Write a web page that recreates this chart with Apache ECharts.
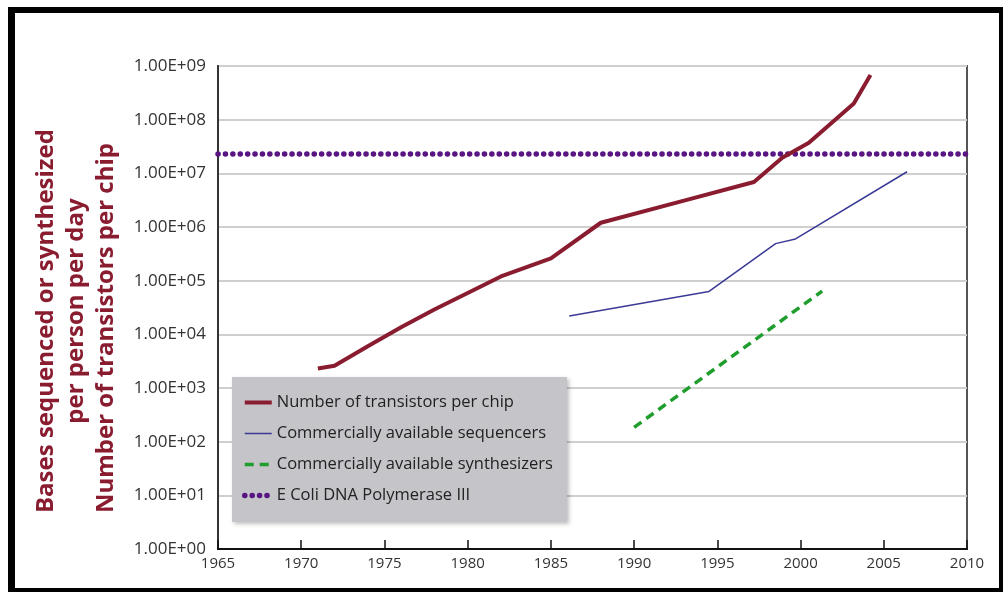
<!DOCTYPE html>
<html>
<head>
<meta charset="utf-8">
<script src="https://cdn.jsdelivr.net/npm/echarts@6/dist/echarts.min.js"></script>
<style>
  html, body { margin: 0; padding: 0; background: #fff; }
  #chart { width: 1003px; height: 592px; }
</style>
</head>
<body>
<div id="chart"></div>
<script>
// --- data (x = year, y = count) ---
const transistorYears = [1971, 1972, 1974, 1976, 1978, 1982, 1985, 1988, 1993, 1997.2, 1998.9, 2000.5, 2003.2, 2004.2];
const transistorValues = [2.3e3, 2.6e3, 6.0e3, 1.35e4, 2.9e4, 1.2e5, 2.6e5, 1.2e6, 3.1e6, 6.9e6, 1.95e7, 3.7e7, 2.0e8, 6.8e8];

const sequencerYears = [1986.1, 1994.5, 1998.5, 1999.7, 2006.4];
const sequencerValues = [2.2e4, 6.3e4, 4.9e5, 6.0e5, 1.07e7];

const synthesizerYears = [1990, 2001.3];
const synthesizerValues = [1.85e2, 6.4e4];

const polymeraseYears = [1965, 2010];
const polymeraseValues = [2.3e7, 2.3e7];

const seriesNames = [
  'Number of transistors per chip',
  'Commercially available sequencers',
  'Commercially available synthesizers',
  'E Coli DNA Polymerase III'
];
const axisTitleLines = [
  'Bases sequenced or synthesized',
  'per person per day',
  'Number of transistors per chip'
];

const red = '#8a1c30';
const blue = '#3a3a96';
const green = '#1f9e2e';
const purple = '#5a1585';
const labelFont = '"Open Sans", sans-serif';
const titleFont = 'bold 24px "Open Sans", sans-serif';

// line looks, shared by the series and their legend icons
const styles = [
  { color: red, width: 4 },
  { color: blue, width: 1.5 },
  { color: green, width: 3.5, type: [9, 6] },
  { color: purple, width: 5.5, type: [0.1, 7.3], cap: 'round' }
];

function pairs(xs, ys) {
  return xs.map((x, i) => [x, ys[i]]);
}

function expLabel(v) {
  const e = Math.round(Math.log10(v));
  return '1.00E+' + (e < 10 ? '0' + e : e);
}

const chart = echarts.init(document.getElementById('chart'));

const seriesData = [
  pairs(transistorYears, transistorValues),
  pairs(sequencerYears, sequencerValues),
  pairs(synthesizerYears, synthesizerValues),
  pairs(polymeraseYears, polymeraseValues)
];

const option = {
  animation: false,
  backgroundColor: '#fff',
  grid: {
    left: 218, right: 36, top: 66, bottom: 43,
    show: true, borderColor: '#555', borderWidth: 2
  },
  xAxis: {
    type: 'value', min: 1965, max: 2010, interval: 5,
    axisLine: { lineStyle: { color: '#111', width: 2 } },
    axisTick: { inside: true, length: 9, lineStyle: { color: '#111', width: 1.5 } },
    splitLine: { show: false },
    axisLabel: { color: '#333', fontFamily: labelFont, fontSize: 15, margin: 7, formatter: v => String(v) }
  },
  yAxis: {
    type: 'log', logBase: 10, min: 1, max: 1e9,
    axisLine: { show: true, lineStyle: { color: '#333', width: 2 } },
    axisTick: { show: false },
    splitLine: { lineStyle: { color: '#cfcfcf', width: 2 } },
    axisLabel: { color: '#333', fontFamily: labelFont, fontSize: 17, margin: 12, formatter: expLabel }
  },
  legend: {
    orient: 'vertical', left: 232, top: 377,
    backgroundColor: '#c4c4c9',
    shadowColor: 'rgba(0,0,0,0.25)', shadowBlur: 4, shadowOffsetX: 2, shadowOffsetY: 2,
    padding: [17, 14, 18, 10],
    itemWidth: 27, itemHeight: 14, itemGap: 14,
    itemStyle: { opacity: 0 },
    textStyle: { color: '#222', fontFamily: labelFont, fontSize: 16.5 },
    data: seriesNames.map((name, i) => ({ name: name, lineStyle: styles[i] }))
  },
  series: seriesNames.map((name, i) => ({
    name: name, type: 'line', symbol: 'none',
    lineStyle: styles[i],
    itemStyle: { color: styles[i].color },
    data: seriesData[i],
    z: i === 0 ? 5 : (i === 3 ? 3 : 4)
  })),
  graphic: [
    // black picture frame
    { type: 'rect', shape: { x: 8, y: 7, width: 995, height: 6 }, style: { fill: '#000' } },
    { type: 'rect', shape: { x: 8, y: 7, width: 7, height: 585 }, style: { fill: '#000' } },
    { type: 'rect', shape: { x: 8, y: 588, width: 995, height: 4 }, style: { fill: '#000' } },
    { type: 'rect', shape: { x: 999, y: 7, width: 4, height: 585 }, style: { fill: '#000' } },
    // rotated axis title, three lines
    {
      type: 'text', x: 46, y: 513, rotation: Math.PI / 2,
      style: { text: axisTitleLines[0], fill: red, font: titleFont, align: 'left', verticalAlign: 'middle' }
    },
    {
      type: 'text', x: 76, y: 311, rotation: Math.PI / 2,
      style: { text: axisTitleLines[1], fill: red, font: titleFont, align: 'center', verticalAlign: 'middle' }
    },
    {
      type: 'text', x: 106, y: 513, rotation: Math.PI / 2,
      style: { text: axisTitleLines[2], fill: red, font: titleFont, align: 'left', verticalAlign: 'middle' }
    }
  ]
};

chart.setOption(option);
</script>
</body>
</html>
